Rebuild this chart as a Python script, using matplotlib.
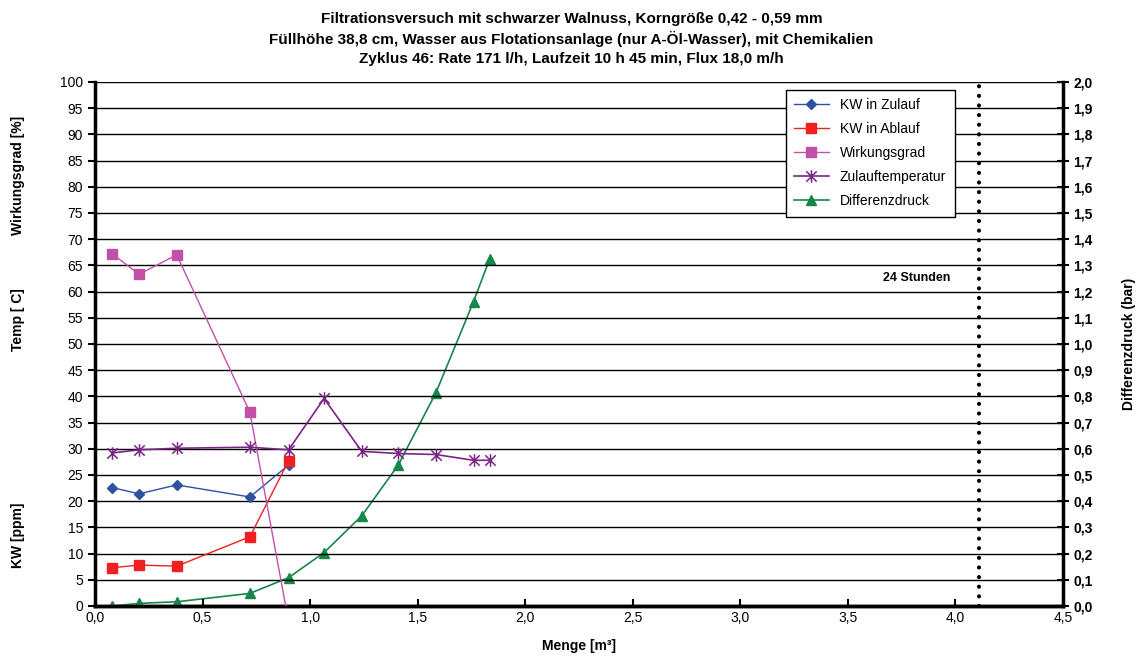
import matplotlib
matplotlib.use("Agg")
import matplotlib.pyplot as plt
from matplotlib.path import Path
import numpy as np

plt.rcParams["font.family"] = ["Liberation Sans", "DejaVu Sans"]

# data
menge_kw = [0.08, 0.205, 0.38, 0.72, 0.90]
kw_zulauf = [22.6, 21.4, 23.1, 20.8, 26.9]
kw_ablauf = [7.3, 7.8, 7.6, 13.2, 27.7]
wirkungsgrad = [67.2, 63.3, 67.0, 37.0, -3.0]

menge_all = [0.08, 0.205, 0.38, 0.72, 0.90, 1.065, 1.24, 1.41, 1.585, 1.76, 1.835]
temperatur = [29.2, 29.8, 30.1, 30.3, 29.8, 39.6, 29.5, 29.1, 28.9, 27.8, 27.8]
diffdruck = [0.0, 0.01, 0.016, 0.048, 0.108, 0.204, 0.344, 0.538, 0.814, 1.162, 1.325]

marker_24h = 4.11
x_ticks = np.arange(0, 4.51, 0.5)
left_ticks = np.arange(0, 101, 5)
right_ticks = np.arange(0, 2.01, 0.1)

# Excel-style star marker: X with a vertical stroke
star = Path([(-1, -1), (1, 1), (-1, 1), (1, -1), (0, -1.2), (0, 1.2)],
            [Path.MOVETO, Path.LINETO, Path.MOVETO, Path.LINETO, Path.MOVETO, Path.LINETO])


def comma(v, nd=1):
    return f"{v:.{nd}f}".replace(".", ",")


fig = plt.figure(figsize=(11.43, 6.67), dpi=100)
ax = fig.add_axes([0.0831, 0.0915, 0.8469, 0.7856])
ax2 = ax.twinx()

ax.set_xlim(0, 4.5)
ax.set_ylim(0, 100)
ax2.set_ylim(0, 2.0)

for y in left_ticks[1:]:
    ax.axhline(y, color="black", lw=1.0, zorder=1)

l1, = ax.plot(menge_kw, kw_zulauf, color="#2F4FA0", marker="D", ms=5, lw=1,
              label="KW in Zulauf", zorder=3)
l2, = ax.plot(menge_kw, kw_ablauf, color="#F02020", marker="s", ms=7, lw=1,
              label="KW in Ablauf", zorder=3)
l3, = ax.plot(menge_kw, wirkungsgrad, color="#C050A8", marker="s", ms=7, lw=1,
              label="Wirkungsgrad", zorder=3)
l4, = ax.plot(menge_all, temperatur, color="#7A2585", marker=star, ms=9,
              mew=1.1, lw=1.2, label="Zulauftemperatur", zorder=3)
l5, = ax2.plot(menge_all, diffdruck, color="#16864A", marker="^", ms=7, lw=1.2,
               label="Differenzdruck", zorder=3)

ax.axvline(marker_24h, color="black", lw=3, ls=(0, (0.01, 2.3)),
           dash_capstyle="round", zorder=2)
ax.text(3.82, 62.5, "24 Stunden", fontsize=9, fontweight="bold", ha="center", va="center")

ax.set_xticks(x_ticks)
ax.set_xticklabels([comma(v) for v in x_ticks], fontsize=10)
ax.set_yticks(left_ticks)
ax.set_yticklabels([f"{v:d}" for v in left_ticks], fontsize=10)
ax2.set_yticks(right_ticks)
ax2.set_yticklabels([comma(v) for v in right_ticks], fontsize=10, fontweight="bold")

ax.tick_params(axis="x", direction="in", length=5, width=1.5)
ax.tick_params(axis="y", direction="out", length=5, width=1.5)
ax2.tick_params(axis="y", direction="inout", length=8, width=1.5)

for a in (ax, ax2):
    a.spines["top"].set_visible(False)
    for s in ("left", "right", "bottom"):
        a.spines[s].set_linewidth(2.5)
ax.spines["right"].set_visible(False)
ax2.spines["left"].set_visible(False)
ax.set_zorder(ax2.get_zorder() + 1)
ax.patch.set_visible(False)

ax.set_xlabel("Menge [m³]", fontsize=10, fontweight="bold", labelpad=10)
ax2.set_ylabel("Differenzdruck (bar)", fontsize=10, fontweight="bold", labelpad=21)
for lbl, yp in [("Wirkungsgrad [%]", 175), ("Temp [ C]", 320), ("KW [ppm]", 535)]:
    fig.text(18 / 1143, 1 - yp / 667, lbl, rotation=90, fontsize=10,
             fontweight="bold", ha="center", va="center")

fig.suptitle("Filtrationsversuch mit schwarzer Walnuss, Korngröße 0,42 - 0,59 mm\n"
             "Füllhöhe 38,8 cm, Wasser aus Flotationsanlage (nur A-Öl-Wasser), mit Chemikalien\n"
             "Zyklus 46: Rate 171 l/h, Laufzeit 10 h 45 min, Flux 18,0 m/h",
             x=0.5, y=0.982, fontsize=11, fontweight="bold", linespacing=1.4)

leg = ax.legend(handles=[l1, l2, l3, l4, l5], loc="upper right",
                bbox_to_anchor=(0.888, 0.985), borderaxespad=0, fontsize=10,
                fancybox=False, framealpha=1, edgecolor="black", borderpad=0.6,
                labelspacing=0.72, handlelength=2.5)
leg.get_frame().set_linewidth(1.0)

fig.savefig("out.png", dpi=100)
